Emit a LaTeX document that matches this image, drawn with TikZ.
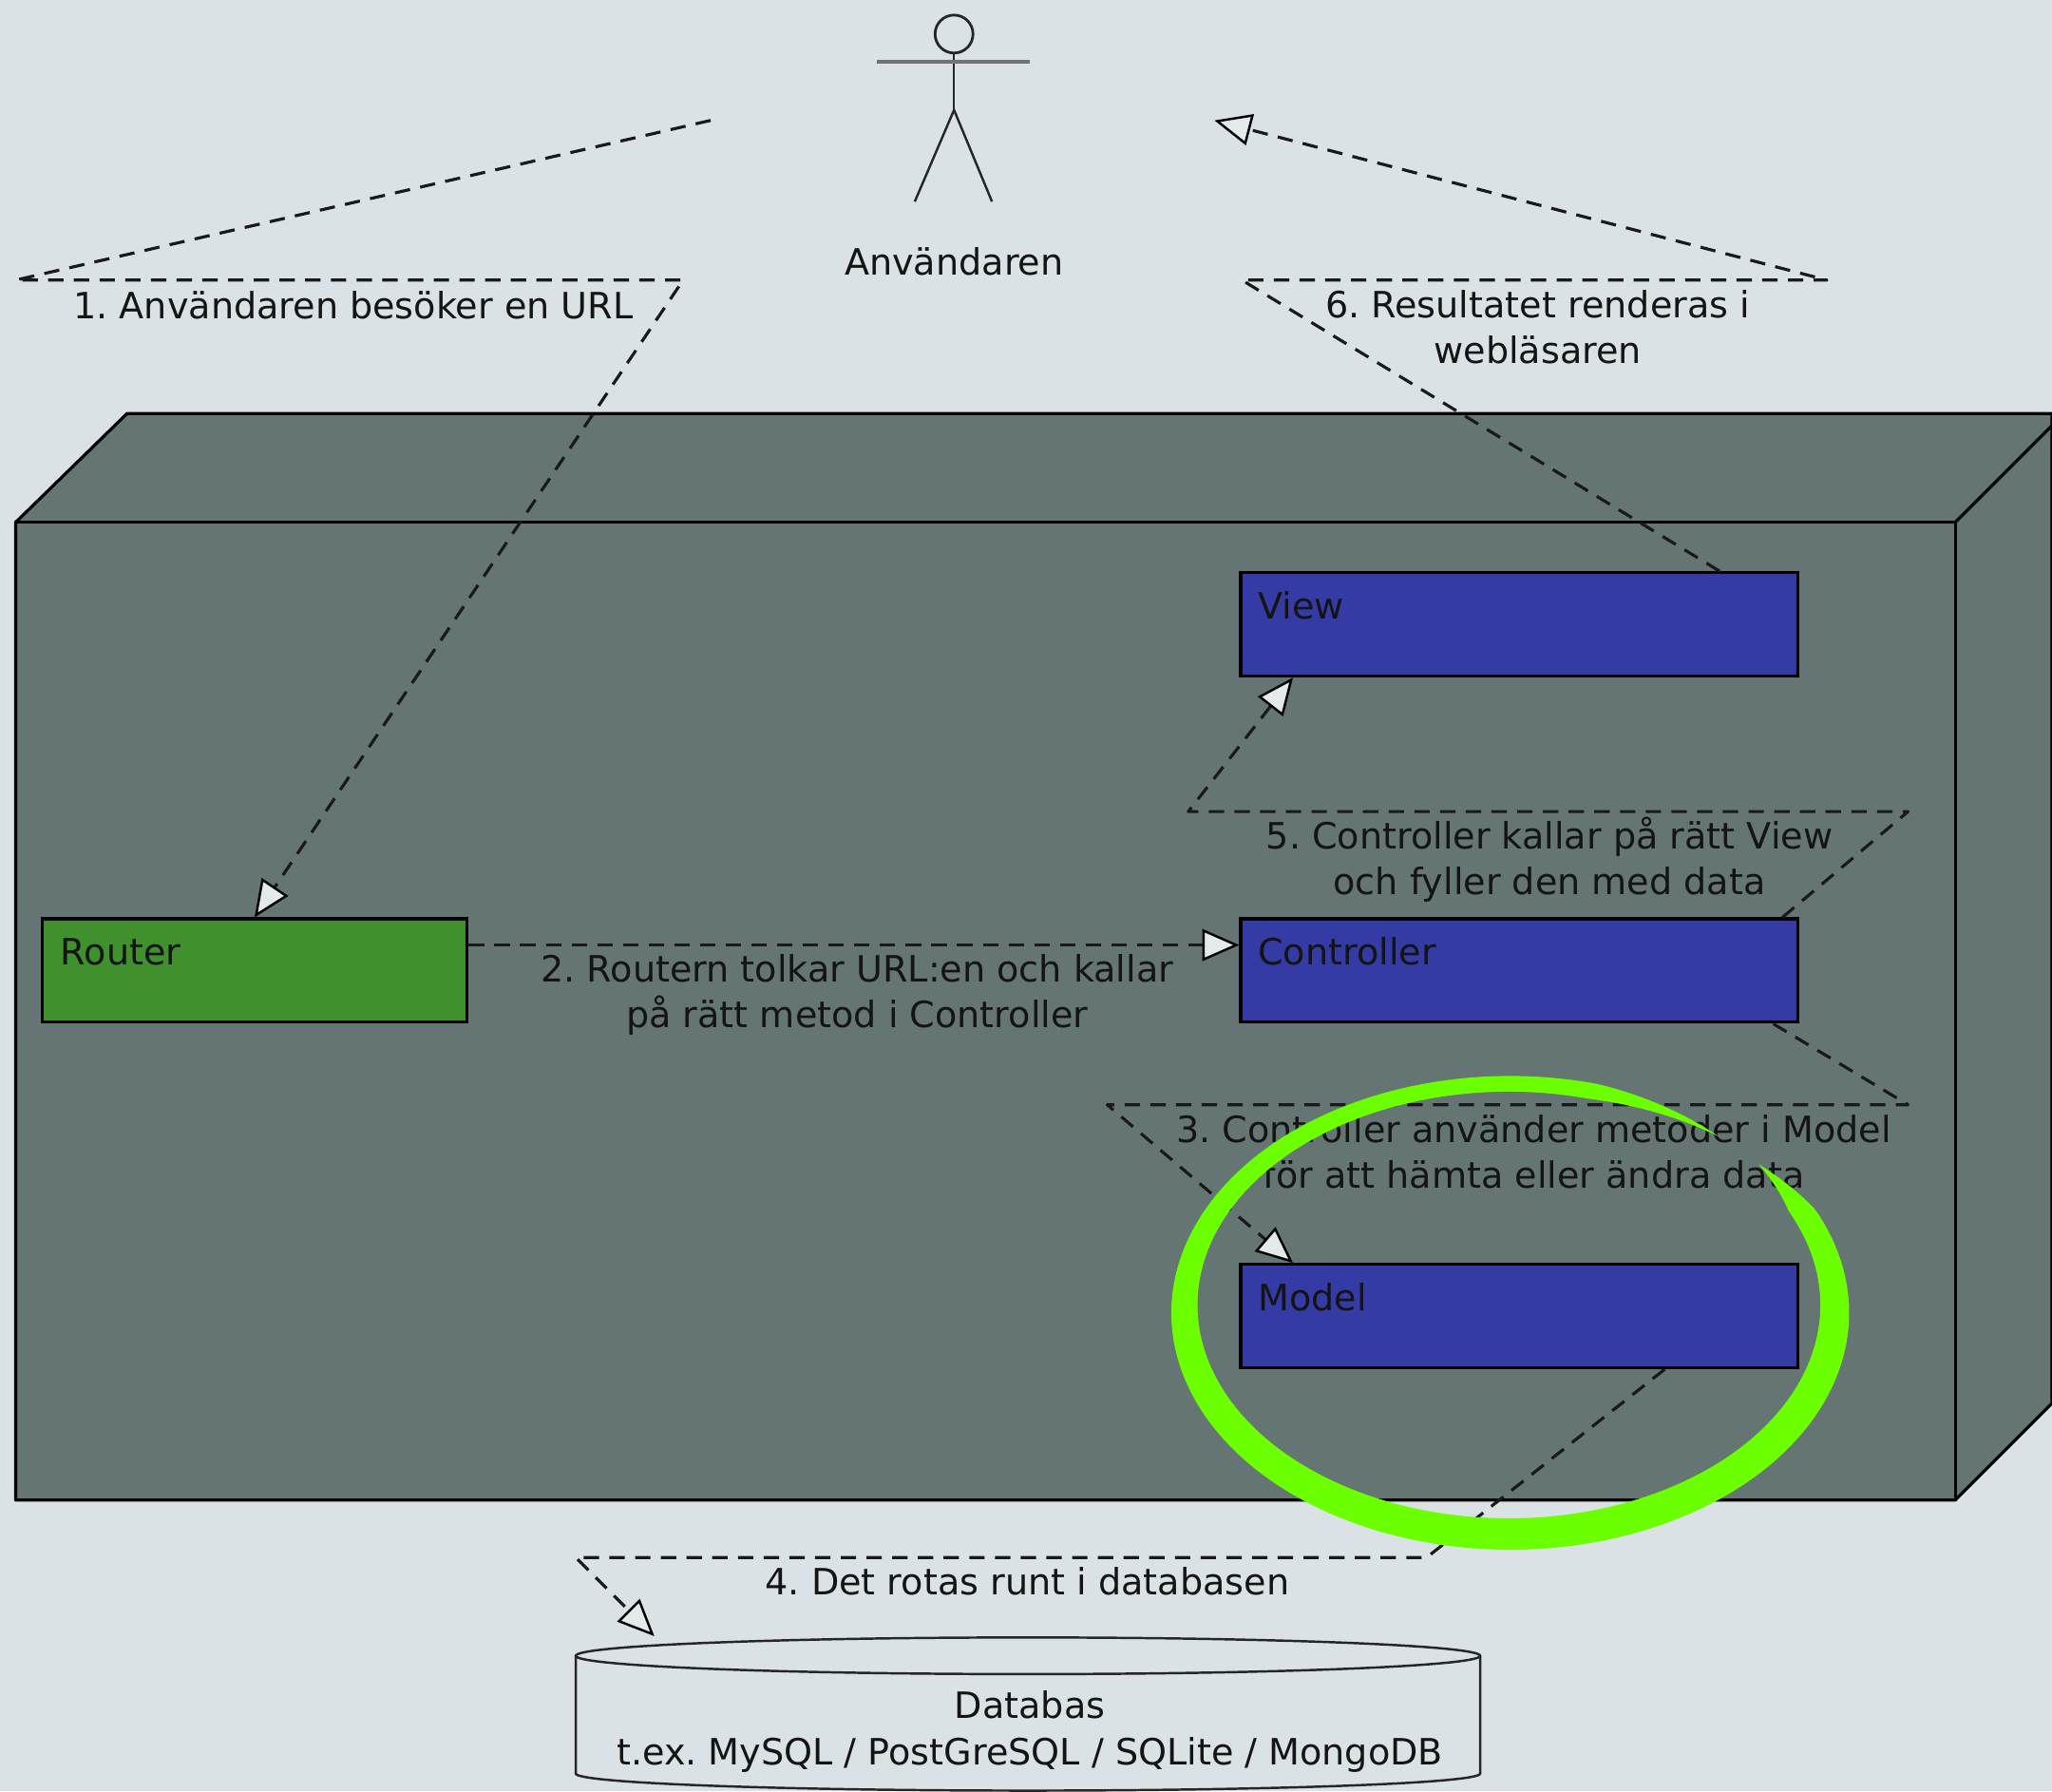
\documentclass[tikz,border=0pt]{standalone}
\usepackage{fontspec}
\setmainfont{DejaVu Sans}
\usetikzlibrary{arrows.meta,calc,shapes.geometric}
\definecolor{bgc}{HTML}{DAE2E5}
\definecolor{boxc}{HTML}{647573}
\definecolor{greenc}{HTML}{41902E}
\definecolor{bluec}{HTML}{353BA5}
\definecolor{hi}{HTML}{6CFF00}
\definecolor{tipc}{HTML}{E4E9EB}
\def\uu{0.013776cm}
\tikzset{
  comp/.style={draw=black,line width=.9pt,inner sep=0pt,minimum height=79*\uu},
  lbl/.style={font=\fontsize{10.85}{13.7}\selectfont\frenchspacing,align=center,inner sep=0pt,text=black!92},
  flowline/.style={draw=black!90,line width=.9pt,line join=round,dash pattern=on 4.6pt off 3.1pt},
  flow/.style={flowline,-{Triangle[length=11pt,width=9.5pt,fill=tipc,line width=.7pt,color=black]}},
  solidline/.style={draw=black!85,line width=.7pt},
  declare function={sf(\t)=min(1,(\t-50)/25,(400-\t)/14);}
}
\begin{document}
\begin{tikzpicture}[x=\uu,y=-\uu]
\useasboundingbox (0,0) rectangle (1568,1368.4);
\fill[bgc] (0,0) rectangle (1568,1368.4);
% three-dimensional box
\draw[fill=boxc,line width=.9pt,line join=round] (12,399) -- (97,316) -- (1568,316) -- (1568,1072) -- (1494,1146) -- (12,1146) -- cycle;
\draw[line width=.9pt] (12,399) rectangle (1494,1146);
\draw[line width=.9pt] (1494,399) -- (1568,325);
% components
\node[comp,fill=greenc,minimum width=325*\uu,label={[lbl,anchor=west,xshift=15*\uu,yshift=14.5*\uu]west:Router}] (router) at (194.5,741.5) {};
\node[comp,fill=bluec,minimum width=426*\uu,label={[lbl,anchor=west,xshift=14*\uu,yshift=14.5*\uu]west:Controller}] (controller) at (1161,741.5) {};
\node[comp,fill=bluec,minimum width=426*\uu,label={[lbl,anchor=west,xshift=14*\uu,yshift=14.5*\uu]west:View}] (view) at (1161,477) {};
\node[comp,fill=bluec,minimum width=426*\uu,label={[lbl,anchor=west,xshift=14*\uu,yshift=14.5*\uu]west:Model}] (model) at (1161,1005.5) {};
% actor
\node[draw=black!85,line width=.8pt,ellipse,minimum width=29*\uu,minimum height=29*\uu,inner sep=0pt] (head) at (729,26) {};
\draw[solidline] (head.south) -- (729,84) coordinate (hip);
\draw[draw=black!55,line width=1pt] (670,47) -- (787,47);
\draw[solidline] (699,154) -- (hip) -- (758,154);
\node[lbl] (user) at (729,200) {Användaren};
% database
\node[lbl] (db) at (787,1323) {Databas\\t.ex. MySQL / PostGreSQL / SQLite / MongoDB};
\draw[solidline] (785.5,1265) ellipse [x radius=345.5,y radius=14];
\draw[solidline] (440,1265) -- (440,1355) arc[start angle=180,end angle=0,x radius=345.5,y radius=13] -- (1131,1265);
% free ends and attachment points
\coordinate (u1) at (543,92);
\coordinate (u6) at (928,92);
\coordinate (dbtip) at (500,1250);
\coordinate (r2) at ([yshift=19.5*\uu]router.east);
\coordinate (c2) at ([yshift=19.5*\uu]controller.west);
\coordinate (c3) at ([xshift=194*\uu]controller.south);
\coordinate (m3) at ([xshift=-173*\uu]model.north);
\coordinate (m4) at ([xshift=111*\uu]model.south);
\coordinate (c5) at ([xshift=201*\uu]controller.north);
\coordinate (v5) at ([xshift=-173*\uu]view.south);
\coordinate (v6) at ([xshift=153*\uu]view.north);
% connectors
\draw[flow] (u1) -- (12,214) -- (522,214) -- (router.north);
\draw[flow] (r2) -- (c2);
\draw[flow] (c3) -- (1458,844) -- (846,844) -- (m3);
\draw[flow] (m4) -- (1090,1190) -- (440,1190) -- (dbtip);
\draw[flow] (c5) -- (1458,620) -- (908,620) -- (v5);
\draw[flow] (v6) -- (949,214) -- (1396,214) -- (u6);
% connector labels
\node[lbl] (l1) at (270,233) {1. Användaren besöker en URL};
\node[lbl] (l2) at (655,760) {2. Routern tolkar URL:en och kallar\\på rätt metod i Controller};
\node[lbl] (l3) at (1172,880) {3. Controller använder metoder i Model\\för att hämta eller ändra data};
\node[lbl] (l4) at (785,1208) {4. Det rotas runt i databasen};
\node[lbl] (l5) at (1184,657) {5. Controller kallar på rätt View\\och fyller den med data};
\node[lbl] (l6) at (1175,250) {6. Resultatet renderas i\\webläsaren};
% highlight stroke
\fill[hi] plot[domain=50:400,samples=180] ({1153.5+0.5*sf(\x)+(248.5+10.5*sf(\x))*cos(\x)},{1000+3*sf(\x)-(172+9*sf(\x))*sin(\x)})
 -- plot[domain=400:50,samples=180] ({1153.5-0.5*sf(\x)+(248.5-10.5*sf(\x))*cos(\x)},{1000-3*sf(\x)-(172-9*sf(\x))*sin(\x)}) -- cycle;
\end{tikzpicture}
\end{document}
